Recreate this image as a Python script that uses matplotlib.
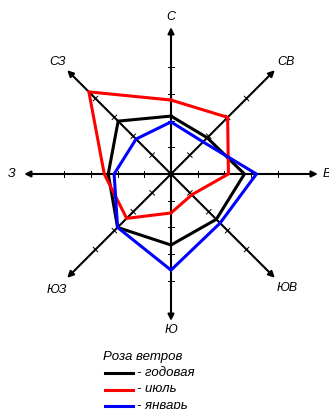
import numpy as np
import matplotlib.pyplot as plt

# directions clockwise from north
directions = ['С', 'СВ', 'В', 'ЮВ', 'Ю', 'ЮЗ', 'З', 'СЗ']
annual = [2.17, 1.92, 2.75, 2.4, 2.66, 2.83, 2.35, 2.8]
july = [2.77, 3.0, 2.15, 1.1, 1.46, 2.35, 2.5, 4.35]
january = [1.95, 1.7, 3.2, 2.6, 3.6, 2.83, 2.13, 1.85]
series_names = ['- годовая', '- июль', '- январь']
series_colors = ['black', 'red', 'blue']
legend_title = 'Роза ветров'
tick_values = [1, 2, 3, 4]

plt.rcParams['font.family'] = ['Liberation Sans', 'DejaVu Sans']

W, H = 329, 409
unit = 26.7
cx, cy = 171, 174  # centre in pixels from top-left

fig = plt.figure(figsize=(W / 100, H / 100), dpi=100)
ax = fig.add_axes([0, 0, 1, 1])
ax.set_xlim(-cx / unit, (W - cx) / unit)
ax.set_ylim(-(H - cy) / unit, cy / unit)
ax.axis('off')

angles = np.deg2rad(90 - 45 * np.arange(8))
axis_len = 5.5

# axes with arrows and ticks
for a in angles:
    ux, uy = np.cos(a), np.sin(a)
    ax.annotate('', xy=(axis_len * ux, axis_len * uy), xytext=(0, 0),
                arrowprops=dict(arrowstyle='-|>', color='black', lw=1.5,
                                mutation_scale=9, shrinkA=0, shrinkB=0))
    px, py = -uy, ux
    for t in tick_values:
        ax.plot([t * ux - 0.12 * px, t * ux + 0.12 * px],
                [t * uy - 0.12 * py, t * uy + 0.12 * py],
                color='black', lw=0.7)

label_pos = {
    'С': (0, 5.88, 'center'), 'СВ': (4.31, 4.19, 'center'),
    'В': (5.69, 0, 'left'), 'ЮВ': (4.34, -4.27, 'center'),
    'Ю': (0, -5.84, 'center'), 'ЮЗ': (-4.27, -4.34, 'center'),
    'З': (-5.96, 0, 'center'), 'СЗ': (-4.23, 4.19, 'center'),
}
for d in directions:
    x, y, ha = label_pos[d]
    ax.text(x, y, d, ha=ha, va='center', fontsize=9, style='italic')

# wind rose polygons
for vals, col, z in [(annual, 'black', 3), (july, 'red', 4), (january, 'blue', 5)]:
    r = np.array(vals + vals[:1])
    a = np.append(angles, angles[0])
    ax.plot(r * np.cos(a), r * np.sin(a), color=col, lw=2.2, zorder=z,
            solid_joinstyle='miter')

# legend
def px2d(x, y):
    return (x - cx) / unit, (cy - y) / unit

tx, ty = px2d(103, 357)
ax.text(tx, ty, legend_title, ha='left', va='center', fontsize=9.5, style='italic')
for i, (name, col) in enumerate(zip(series_names, series_colors)):
    y = 373 + 16.5 * i
    x0, yy = px2d(105, y)
    x1, _ = px2d(133, y)
    ax.plot([x0, x1], [yy, yy], color=col, lw=2.2)
    lx, _ = px2d(137, y)
    ax.text(lx, yy, name, ha='left', va='center', fontsize=9.5, style='italic')

fig.savefig('out.png', dpi=100)
